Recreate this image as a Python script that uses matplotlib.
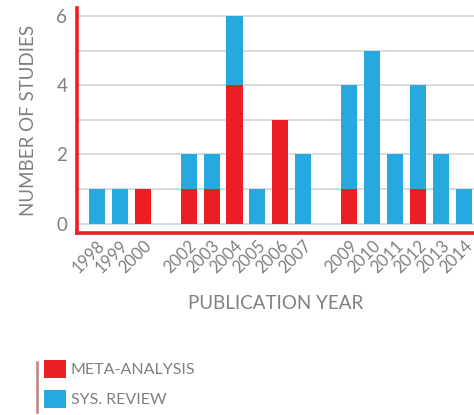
import matplotlib.pyplot as plt
from matplotlib.lines import Line2D
from matplotlib.patches import Patch

years = [1998, 1999, 2000, 2002, 2003, 2004, 2005, 2006, 2007,
         2009, 2010, 2011, 2012, 2013, 2014]
meta_analysis = [0, 0, 1, 1, 1, 4, 0, 3, 0, 1, 0, 0, 1, 0, 0]
sys_review = [1, 1, 0, 1, 1, 2, 1, 0, 2, 3, 5, 2, 3, 2, 1]
y_ticks = [0, 2, 4, 6]

RED = "#ec1f26"
BLUE = "#25a9e0"
GREY = "#808080"

plt.rcParams["font.family"] = ["Lato", "DejaVu Sans"]

fig = plt.figure(figsize=(4.74, 4.15), dpi=100)
ax = fig.add_axes([0.1625, 0.4386, 0.84, 0.5421])

ax.bar(years, meta_analysis, width=0.7, color=RED, zorder=3)
ax.bar(years, sys_review, width=0.7, bottom=meta_analysis, color=BLUE, zorder=3)

ax.set_xlim(1997.13, 2014.5)
ax.set_ylim(-0.27, 6.23)

# light grid on every integer, labels only on even ones
for v in range(0, 7):
    ax.axhline(v, color="#d4d4d4", linewidth=1.2, zorder=1)
ax.set_yticks(y_ticks)
ax.set_yticklabels([str(t) for t in y_ticks], fontsize=13.5, color=GREY)
ax.set_xticks(years)
ax.set_xticklabels([str(y) for y in years], rotation=45, ha="right",
                   rotation_mode="anchor", fontsize=12, color=GREY)
ax.tick_params(axis="both", length=0)
ax.tick_params(axis="y", pad=7)
ax.tick_params(axis="x", pad=3)

for side in ["top", "right"]:
    ax.spines[side].set_visible(False)
for side in ["left", "bottom"]:
    ax.spines[side].set_color(RED)
    ax.spines[side].set_linewidth(2.6)

ax.set_ylabel("NUMBER OF STUDIES", fontsize=13.5, color=GREY, labelpad=14)
ax.set_xlabel("PUBLICATION YEAR", fontsize=13.5, color=GREY, labelpad=14)

handles = [Patch(facecolor=RED, edgecolor="none"),
           Patch(facecolor=BLUE, edgecolor="none")]
leg = fig.legend(handles, ["META-ANALYSIS", "SYS. REVIEW"],
                 loc="upper left", bbox_to_anchor=(0.093, 0.1325),
                 frameon=False, handlelength=1.38, handleheight=1.38,
                 handletextpad=0.3, labelspacing=0.72, fontsize=11.5,
                 borderaxespad=0, borderpad=0)
for t in leg.get_texts():
    t.set_color(GREY)

fig.add_artist(Line2D([0.078, 0.078], [0.007, 0.128], color="#c08080",
                      linewidth=1.8, transform=fig.transFigure))

fig.savefig("out.png", dpi=100, facecolor="white")
